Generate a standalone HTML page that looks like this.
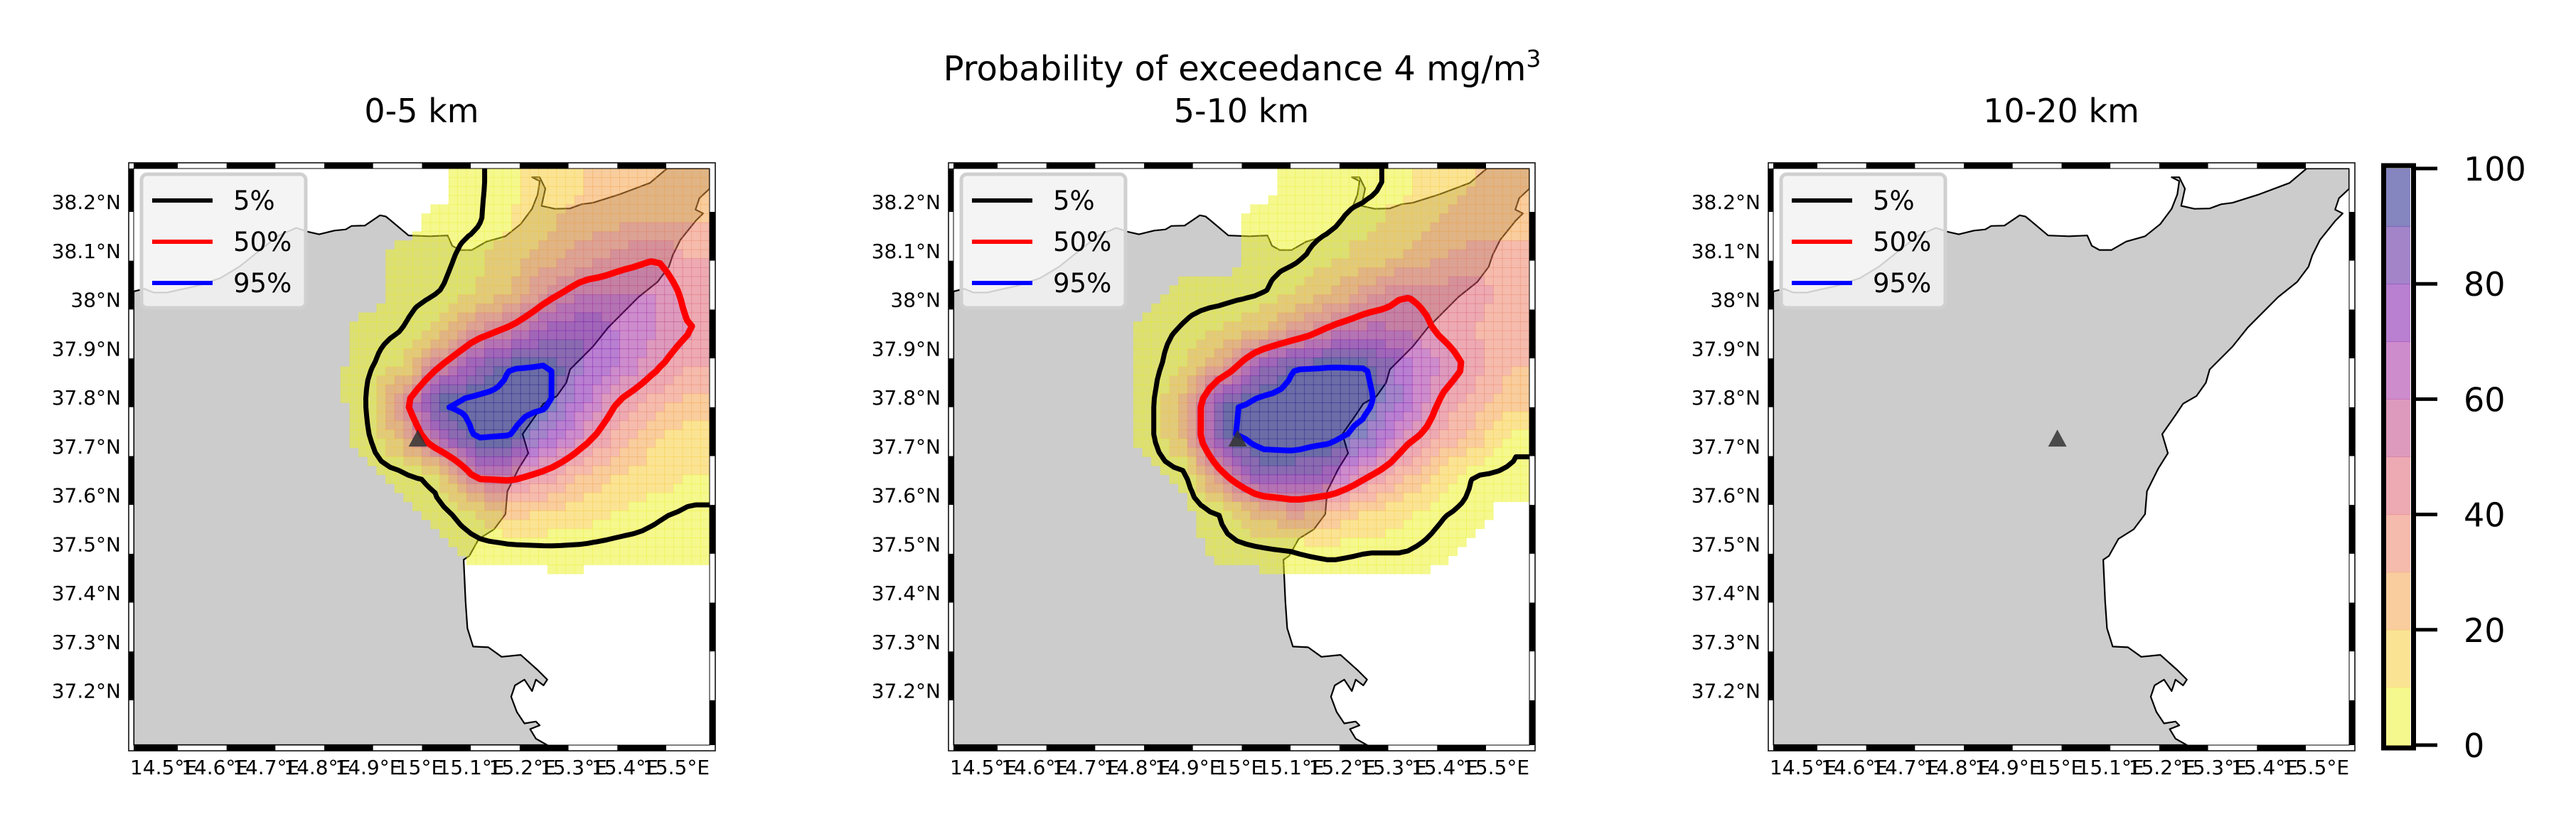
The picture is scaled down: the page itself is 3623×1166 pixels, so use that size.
<!DOCTYPE html>
<html><head><meta charset="utf-8"><style>
html,body{margin:0;padding:0;background:#fff;}
svg text{font-family:"DejaVu Sans","Liberation Sans",sans-serif;}
</style></head><body>
<svg id="fig" xmlns="http://www.w3.org/2000/svg" width="3623" height="1161" viewBox="0 0 3623 1161">
<rect x="0" y="0" width="3623" height="1161" fill="#fff"/>
<text x="1747" y="113" font-size="48" text-anchor="middle">Probability of exceedance 4 mg/m<tspan font-size="33" dy="-19">3</tspan></text>
</svg>
<script>
// ---- data ----
const panelTitles = ["0-5 km", "5-10 km", "10-20 km"];
const lonTicks = [14.5,14.6,14.7,14.8,14.9,15.0,15.1,15.2,15.3,15.4,15.5];
const lonLabels = ["14.5°E","14.6°E","14.7°E","14.8°E","14.9°E","15°E","15.1°E","15.2°E","15.3°E","15.4°E","15.5°E"];
const latTicks = [38.2,38.1,38.0,37.9,37.8,37.7,37.6,37.5,37.4,37.3,37.2];
const latLabels = ["38.2°N","38.1°N","38°N","37.9°N","37.8°N","37.7°N","37.6°N","37.5°N","37.4°N","37.3°N","37.2°N"];
const contourLevels = [5, 50, 95];
const legendLabels = ["5%", "50%", "95%"];
const cbarTicks = [0,20,40,60,80,100];
const volcanoLon = 14.995, volcanoLat = 37.734;

const prob0to5 = [
[0,0,0,0,0,0,0,0,0,4,8,15,20,25,25,20],
[0,0,0,0,0,0,0,0,3,4,10,18,25,28,30,30],
[0,0,0,0,0,0,0,3,3,8,15,25,35,45,50,40],
[0,0,0,0,0,0,0,3,5,10,20,45,60,60,60,45],
[0,0,0,0,0,0,3,5,12,40,55,75,80,70,60,50],
[0,0,0,0,0,0,4,10,50,80,96,97,80,70,52,40],
[0,0,0,0,0,0,4,45,97,99,99,98,72,48,35,25],
[0,0,0,0,0,0,3,25,70,97,95,80,55,35,20,15],
[0,0,0,0,0,0,0,3,8,55,55,45,30,20,15,10],
[0,0,0,0,0,0,0,0,3,10,25,20,15,10,6,4],
[0,0,0,0,0,0,0,0,0,3,3,4,4,3,3,3],
[0,0,0,0,0,0,0,0,0,0,0,0,0,0,0,0],
[0,0,0,0,0,0,0,0,0,0,0,0,0,0,0,0],
[0,0,0,0,0,0,0,0,0,0,0,0,0,0,0,0],
[0,0,0,0,0,0,0,0,0,0,0,0,0,0,0,0],
[0,0,0,0,0,0,0,0,0,0,0,0,0,0,0,0]];
const prob5to10 = [
[0,0,0,0,0,0,0,0,0,3,3,3,8,15,20,25],
[0,0,0,0,0,0,0,0,3,3,4,8,15,20,25,25],
[0,0,0,0,0,0,0,0,3,4,8,15,20,30,35,35],
[0,0,0,0,0,0,3,3,4,10,20,35,50,45,45,35],
[0,0,0,0,0,3,6,10,20,35,55,65,60,48,40,30],
[0,0,0,0,0,3,10,35,75,96,97,96,75,60,45,30],
[0,0,0,0,0,3,25,92,99,100,100,98,80,48,35,25],
[0,0,0,0,0,3,25,93,99,100,98,90,55,40,25,6],
[0,0,0,0,0,0,3,48,85,85,75,52,35,15,4,4],
[0,0,0,0,0,0,0,6,25,35,30,20,12,6,3,0],
[0,0,0,0,0,0,0,3,4,6,8,6,6,3,0,0],
[0,0,0,0,0,0,0,0,0,0,0,0,0,0,0,0],
[0,0,0,0,0,0,0,0,0,0,0,0,0,0,0,0],
[0,0,0,0,0,0,0,0,0,0,0,0,0,0,0,0],
[0,0,0,0,0,0,0,0,0,0,0,0,0,0,0,0],
[0,0,0,0,0,0,0,0,0,0,0,0,0,0,0,0]];
const prob10to20 = Array.from({length:16},()=>new Array(16).fill(0));
const panelGrids = [prob0to5, prob5to10, prob10to20];

// coastline traced in reference pixels of a 1515px map box (shape, not data)
const coastTrace = [[22,345],[50,338],[75,348],[110,348],[190,330],[250,310],[300,280],[350,240],[400,200],[450,178],[480,188],[510,195],[550,185],[580,182],[595,173],[630,172],[670,145],[685,148],[700,160],[745,198],[800,200],[848,198],[860,225],[880,236],[912,236],[950,214],[1000,200],[1040,168],[1070,128],[1085,90],[1090,55],[1070,45],[1090,45],[1105,75],[1095,120],[1130,128],[1170,127],[1200,116],[1230,112],[1300,90],[1380,60],[1425,22],[1537,22],[1537,75],[1510,100],[1500,130],[1520,140],[1500,160],[1460,210],[1440,250],[1430,280],[1400,320],[1350,360],[1310,400],[1270,440],[1230,490],[1200,520],[1170,550],[1160,585],[1135,620],[1100,640],[1080,670],[1045,720],[1060,770],[1035,810],[1005,870],[1000,930],[970,970],[930,995],[905,1040],[890,1050],[895,1160],[900,1230],[915,1278],[955,1280],[990,1305],[1040,1300],[1085,1340],[1110,1365],[1100,1380],[1080,1365],[1070,1395],[1050,1365],[1025,1380],[1015,1410],[1030,1450],[1050,1480],[1080,1475],[1090,1485],[1065,1495],[1080,1520],[1110,1537],[22,1537]];

const binColors = ["rgb(235,241,27)","rgb(247,199,41)","rgb(243,155,59)","rgb(235,119,91)","rgb(219,85,101)","rgb(187,53,123)","rgb(155,25,153)","rgb(115,0,163)","rgb(71,9,147)","rgb(11,11,129)"];
const contourColors = ["#000000","#ff0000","#0000ff"];
const contourWidths = [7,9,8];

// ---- layout ----
const NS = "http://www.w3.org/2000/svg";
const svg = document.getElementById("fig");
const panelX = [188, 1341, 2494], Y0 = 237, W = 810, H = 811;
const lonMin = 14.44, lonMax = 15.565, latMin = 37.108, latMax = 38.289;
const UP = 4;
function el(tag, attrs, parent){ const e=document.createElementNS(NS,tag); for(const k in attrs) e.setAttribute(k,attrs[k]); (parent||svg).appendChild(e); return e; }
function xLon(x0, lon){ return x0 + (lon-lonMin)/(lonMax-lonMin)*W; }
function yLat(lat){ return Y0 + (latMax-lat)/(latMax-latMin)*H; }

// bilinear resampling of the data grid for display
function resample(grid, f){
  const R=grid.length, C=grid[0].length;
  const g=(r,c)=>grid[Math.max(0,Math.min(R-1,r))][Math.max(0,Math.min(C-1,c))];
  const out=[];
  for(let i=0;i<R*f;i++){ const row=[]; const rr=(i+0.5)/f-0.5, r0=Math.floor(rr), fr=rr-r0;
    for(let j=0;j<C*f;j++){ const cc=(j+0.5)/f-0.5, c0=Math.floor(cc), fc=cc-c0;
      const v=(g(r0,c0)*(1-fc)+g(r0,c0+1)*fc)*(1-fr)+(g(r0+1,c0)*(1-fc)+g(r0+1,c0+1)*fc)*fr;
      row.push(v);}
    out.push(row);}
  return out;
}

const defs = el("defs",{});
panelX.forEach((x0,p)=>{
  const cp = el("clipPath",{id:"clip"+p}, defs);
  el("rect",{x:x0,y:Y0,width:W,height:H}, cp);
});

function contourPath(grid, L, x0){
  const R=grid.length, C=grid[0].length, cw=W/C, ch=H/R;
  const g=(r,c)=>grid[Math.max(0,Math.min(R-1,r))][Math.max(0,Math.min(C-1,c))];
  const px=c=>x0+(c+0.5)*cw, py=r=>Y0+(r+0.5)*ch;
  let d="";
  for(let r=-1;r<R;r++) for(let c=-1;c<C;c++){
    const a=g(r,c), b=g(r,c+1), cc=g(r+1,c+1), dd=g(r+1,c);
    const idx=(a>=L?8:0)|(b>=L?4:0)|(cc>=L?2:0)|(dd>=L?1:0);
    if(idx===0||idx===15) continue;
    const t=(v1,v2)=>(L-v1)/(v2-v1);
    const top=[px(c)+t(a,b)*cw, py(r)], right=[px(c+1), py(r)+t(b,cc)*ch];
    const bot=[px(c)+t(dd,cc)*cw, py(r+1)], left=[px(c), py(r)+t(a,dd)*ch];
    const segs={1:[[left,bot]],2:[[bot,right]],3:[[left,right]],4:[[top,right]],5:[[left,top],[bot,right]],6:[[top,bot]],7:[[left,top]],8:[[left,top]],9:[[top,bot]],10:[[top,right],[left,bot]],11:[[top,right]],12:[[left,right]],13:[[bot,right]],14:[[left,bot]]}[idx];
    segs.forEach(s=>{ d+=`M${s[0][0].toFixed(1)},${s[0][1].toFixed(1)}L${s[1][0].toFixed(1)},${s[1][1].toFixed(1)}`; });
  }
  return d;
}

panelX.forEach((x0,p)=>{
  const grp = el("g",{});
  
  
  const title = el("text",{x:x0+W/2,y:172,"font-size":46,"text-anchor":"middle"},grp);
  title.textContent = panelTitles[p];
  
  
  const inner = el("g",{"clip-path":`url(#clip${p})`},grp);
  const sea = el("rect",{x:x0,y:Y0,width:W,height:H,fill:"#fff"},inner);
  
  
  const pts = coastTrace.map(q=>`${(x0+(q[0]-22)/1515*W).toFixed(1)},${(Y0+(q[1]-22)/1515*H).toFixed(1)}`).join(" ");
  const land = el("polygon",{points:pts,fill:"#cccccc",stroke:"#000","stroke-width":2.2,"stroke-linejoin":"round"},inner);
  
  
  const grid = resample(panelGrids[p], UP), R=grid.length, C=grid[0].length;
  for(let r=0;r<R;r++) for(let c=0;c<C;c++){
    const v=grid[r][c]; if(v<1.5) continue;
    const bin=Math.min(9,Math.floor(v/10));
    const cell = el("rect",{x:(x0+c*W/C).toFixed(1),y:(Y0+r*H/R).toFixed(1),width:(W/C).toFixed(2),height:(H/R).toFixed(2),fill:binColors[bin],"fill-opacity":0.5,stroke:binColors[bin],"stroke-opacity":0.25,"stroke-width":0.8},inner);
    
    
  }
  contourLevels.forEach((L,i)=>{
    const d = contourPath(grid, L, x0);
    if(!d) return;
    const path = el("path",{d:d,fill:"none",stroke:contourColors[i],"stroke-width":contourWidths[i],"stroke-linecap":"round"},inner);
    
    
  });
  const vx = xLon(x0, volcanoLon), vy = yLat(volcanoLat);
  const tri = el("polygon",{points:`${vx},${vy-14} ${vx-13},${vy+10} ${vx+13},${vy+10}`,fill:"#333","fill-opacity":0.85},inner);
  
  
  // checker frame
  const X1=x0+W, Yb=Y0+H;
  const seg=68.7, hStart=x0+62, vStart=298;
  let xs=[x0]; for(let x=hStart;x<X1;x+=seg) xs.push(x); xs.push(X1);
  for(let i=0;i<xs.length-1;i++){ const fill=i%2===0?"#000":"#fff";
    el("rect",{x:xs[i],y:Y0-8,width:xs[i+1]-xs[i],height:8,fill:fill},grp);
    el("rect",{x:xs[i],y:Yb,width:xs[i+1]-xs[i],height:8,fill:fill},grp);}
  let ys=[Y0]; for(let y=vStart;y<Yb;y+=seg) ys.push(y); ys.push(Yb);
  for(let i=0;i<ys.length-1;i++){ const rf=i%2===0?"#fff":"#000", lf=i%2===0?"#000":"#fff";
    el("rect",{x:X1,y:ys[i],width:8,height:ys[i+1]-ys[i],fill:rf},grp);
    el("rect",{x:x0-7,y:ys[i],width:7,height:ys[i+1]-ys[i],fill:lf},grp);}
  el("rect",{x:x0-7,y:Y0-8,width:W+15,height:H+16,fill:"none",stroke:"#000","stroke-width":1.5},grp);
  el("rect",{x:x0,y:Y0,width:W,height:H,fill:"none",stroke:"#000","stroke-width":1},grp);
  // tick labels
  lonTicks.forEach((lon,i)=>{
    const t=el("text",{x:(230+(lon-14.5)*721-188+x0).toFixed(1),y:1089,"font-size":28,"text-anchor":"middle"},grp);
    t.textContent=lonLabels[i];
    
    
  });
  latTicks.forEach((lat,i)=>{
    const t=el("text",{x:x0-18,y:(298+(38.2-lat)*687.5-4).toFixed(1),"font-size":28,"text-anchor":"end"},grp);
    t.textContent=latLabels[i];
    
    
  });
  // legend
  const lg = el("g",{},grp);
  
  
  el("rect",{x:x0+11,y:Y0+8,width:231,height:188,rx:8,fill:"#f2f2f2","fill-opacity":0.85,stroke:"#d0d0d0","stroke-width":5},lg);
  legendLabels.forEach((lab,i)=>{
    const ly=Y0+45+i*58;
    const ln=el("line",{x1:x0+26,x2:x0+111,y1:ly,y2:ly,stroke:contourColors[i],"stroke-width":6},lg);
    
    
    const t=el("text",{x:x0+140,y:ly+13,"font-size":37},lg);
    t.textContent=lab;
    
    
  });
});

// colorbar
const cb = el("g",{});


const cbTop=237, cbBot=1048, cbX=3356, cbW=34;
const cbY = v => cbBot - v/100*(cbBot-cbTop);
binColors.forEach((col,i)=>{
  const r=el("rect",{x:cbX,y:cbY((i+1)*10),width:cbW,height:cbY(i*10)-cbY((i+1)*10)+0.5,fill:col,"fill-opacity":0.5},cb);
  
  
});
el("rect",{x:3352.5,y:233,width:42,height:819,fill:"none",stroke:"#000","stroke-width":7},cb);
cbarTicks.forEach(v=>{
  const y=cbY(v);
  el("line",{x1:3398,x2:3428,y1:y,y2:y,stroke:"#000","stroke-width":5},cb);
  const t=el("text",{x:3465,y:y+17,"font-size":46},cb);
  t.textContent=String(v);
  
  
});
</script>
</body></html>
